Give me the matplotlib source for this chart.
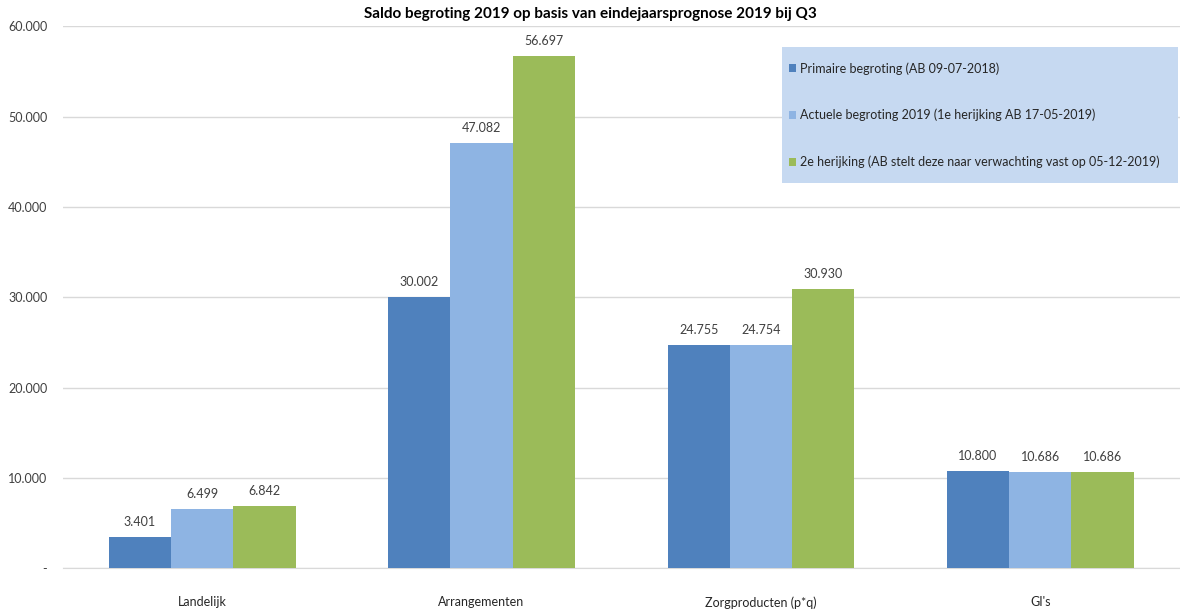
import numpy as np
import matplotlib
matplotlib.use("Agg")
import matplotlib.pyplot as plt
from matplotlib.patches import Rectangle
from matplotlib.ticker import FuncFormatter

categories = ["Landelijk", "Arrangementen", "Zorgproducten (p*q)", "GI's"]
series_names = [
    "Primaire begroting (AB 09-07-2018)",
    "Actuele begroting 2019 (1e herijking AB 17-05-2019)",
    "2e herijking (AB stelt deze naar verwachting vast op 05-12-2019)",
]
primaire = [3401, 30002, 24755, 10800]
actueel = [6499, 47082, 24754, 10686]
herijking2 = [6842, 56697, 30930, 10686]
colors = ["#4F81BD", "#8EB4E3", "#9BBB59"]

plt.rcParams["font.family"] = ["Lato", "DejaVu Sans"]

fig = plt.figure(figsize=(11.8, 6.09), dpi=100)
ax = fig.add_axes([0.053, 0.067, 0.947, 0.89])

x = np.arange(len(categories))
w = 0.223
for k, (vals, name) in enumerate(zip([primaire, actueel, herijking2], series_names)):
    pos = x + (k - 1) * w
    bars = ax.bar(pos, vals, width=w, color=colors[k], label=name, zorder=3)
    for b, v in zip(bars, vals):
        ax.text(b.get_x() + b.get_width() / 2, v + 1000, f"{v:,}".replace(",", "."),
                ha="center", va="bottom", fontsize=9, color="#404040")

ax.set_xlim(-0.5, 3.5)
ax.set_ylim(0, 60000)
ax.set_yticks(np.arange(0, 60001, 10000))
ax.yaxis.set_major_formatter(FuncFormatter(
    lambda v, p: "-" if v == 0 else f"{int(v):,}".replace(",", ".")))
ax.set_xticks(x)
ax.set_xticklabels(categories)
ax.tick_params(axis="x", length=0, pad=20, labelsize=9, labelcolor="#262626")
ax.tick_params(axis="y", length=0, pad=11, labelsize=9, labelcolor="#404040")
ax.grid(axis="y", color="#D9D9D9", linewidth=1, zorder=0)
for s in ["top", "right", "left"]:
    ax.spines[s].set_visible(False)
ax.spines["bottom"].set_color("#D9D9D9")

fig.text(0.5, 0.977, "Saldo begroting 2019 op basis van eindejaarsprognose 2019 bij Q3",
         ha="center", va="center", fontsize=11, fontweight="bold")

fig.patches.append(Rectangle((782 / 1180, 1 - 183 / 609), 396 / 1180, 136 / 609,
                             transform=fig.transFigure, facecolor="#C6D9F1",
                             edgecolor="none", zorder=4))
leg = fig.legend(loc="upper left", bbox_to_anchor=(784 / 1180, 1 - 57 / 609),
                 frameon=False, fontsize=9, handlelength=0.55, handleheight=0.55,
                 handletextpad=0.3, labelspacing=2.75, borderaxespad=0)
leg.set_zorder(5)
for t in leg.get_texts():
    t.set_color("#262626")

fig.savefig("out.png", dpi=100)
